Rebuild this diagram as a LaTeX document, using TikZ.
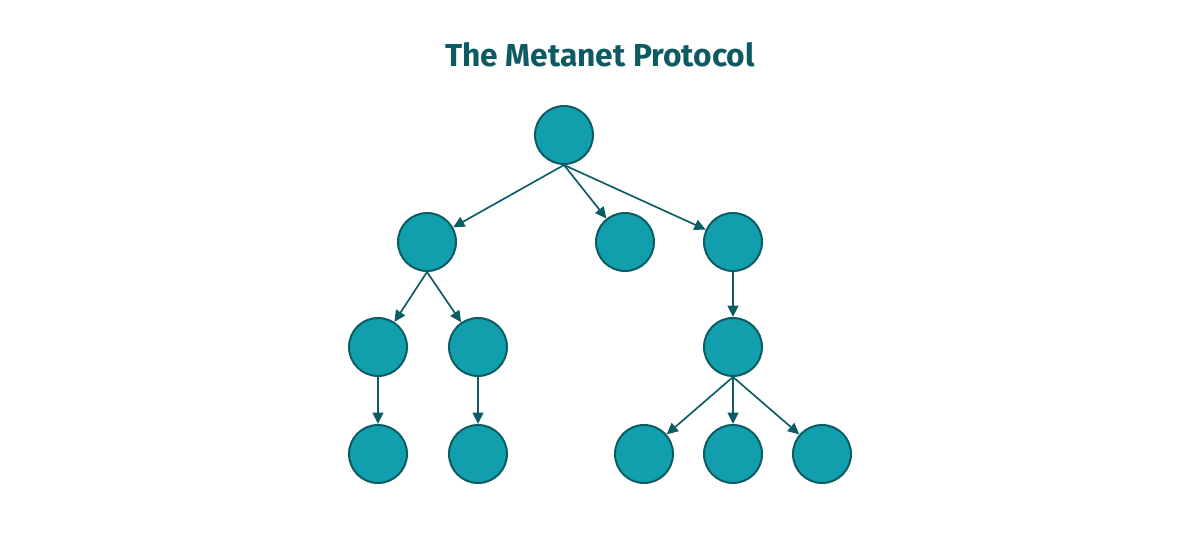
\documentclass[tikz,border=0pt]{standalone}
\usepackage{fontspec}
\setmainfont{Fira Sans}
\usetikzlibrary{arrows.meta}
\definecolor{nodefill}{HTML}{129FAD}
\definecolor{nodeline}{HTML}{0C5C64}
\definecolor{titlecol}{HTML}{0E5A62}
\begin{document}
\begin{tikzpicture}[x=0.75pt,y=-0.75pt,
  mnode/.style={circle,draw=nodeline,fill=nodefill,line width=1.5pt,minimum size=43.5pt,inner sep=0pt},
  link/.style={draw=nodeline,line width=1.25pt,-{Triangle[length=8.5pt,width=8pt]}}]
\useasboundingbox (0,0) rectangle (1200,548);
\node[text=titlecol,font=\bfseries\fontsize{23.8}{27}\selectfont] (title) at (600,55) {The Metanet Protocol};
\node[mnode] (r) at (564,135) {};
\node[mnode] (a) at (427,242) {};
\node[mnode] (b) at (625,242) {};
\node[mnode] (c) at (733,242) {};
\node[mnode] (a1) at (378,347) {};
\node[mnode] (a2) at (478,347) {};
\node[mnode] (c1) at (733,347) {};
\node[mnode] (a11) at (378,454) {};
\node[mnode] (a21) at (478,454) {};
\node[mnode] (c11) at (644,454) {};
\node[mnode] (c12) at (733,454) {};
\node[mnode] (c13) at (822,454) {};
\draw[link] (r.south) -- (a);
\draw[link] (r.south) -- (b);
\draw[link] (r.south) -- (c);
\draw[link] (a.south) -- (a1);
\draw[link] (a.south) -- (a2);
\draw[link] (c.south) -- (c1);
\draw[link] (a1.south) -- (a11);
\draw[link] (a2.south) -- (a21);
\draw[link] (c1.south) -- (c11);
\draw[link] (c1.south) -- (c12);
\draw[link] (c1.south) -- (c13);
\end{tikzpicture}
\end{document}
